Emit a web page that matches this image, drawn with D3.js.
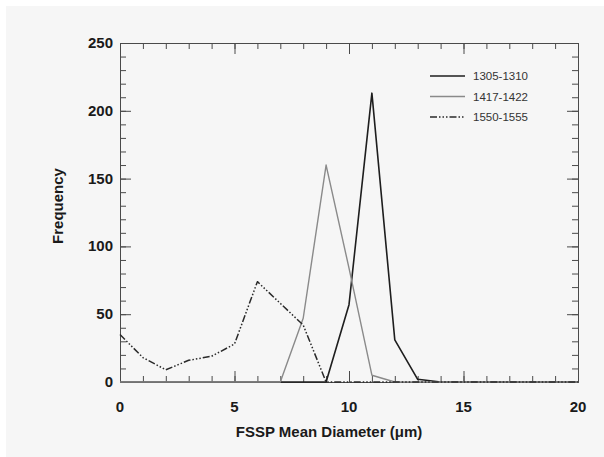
<!DOCTYPE html>
<html>
<head>
<meta charset="utf-8">
<script src="https://cdn.jsdelivr.net/npm/d3@7"></script>
<style>
  html, body { margin: 0; padding: 0; background: #ffffff; }
  svg { display: block; font-family: "Liberation Sans", Arial, sans-serif; }
</style>
</head>
<body>
<div id="chart"></div>
<script>
// ---------------------------------------------------------------------------
// Data (frequency per 1 um bin, diameters 0..20)

const diameters = d3.range(0, 21);
const s1305 = [0, 0, 0, 0, 0, 0, 0, 0, 0, 0, 57, 213, 31, 2, 0, 0, 0, 0, 0, 0, 0];
const s1417 = [0, 0, 0, 0, 0, 0, 0, 0, 47, 160, 84, 5, 0, 0, 0, 0, 0, 0, 0, 0, 0];
const s1550 = [35, 18, 9, 16, 19, 28, 74, 58, 42, 0, 0, 0, 0, 0, 0, 0, 0, 0, 0, 0, 0];
const seriesNames = ['1305-1310', '1417-1422', '1550-1555'];
const xTicks = [0, 5, 10, 15, 20];
const yTicks = [0, 50, 100, 150, 200, 250];

// ---------------------------------------------------------------------------
// Layout

const width = 604;
const height = 457;
const margin = {top: 43, right: 26, bottom: 75, left: 120};

const svg = d3.select('#chart')
  .append('svg')
  .attr('width', width)
  .attr('height', height);

svg.append('rect')
  .attr('width', width)
  .attr('height', height)
  .attr('fill', '#ffffff');

svg.append('rect')
  .attr('x', 6)
  .attr('y', 6)
  .attr('width', width - 6)
  .attr('height', height - 6)
  .attr('fill', '#f6f6f6');

const x = d3.scaleLinear()
  .domain([0, 20])
  .range([margin.left, width - margin.right]);

const y = d3.scaleLinear()
  .domain([0, 250])
  .range([height - margin.bottom, margin.top]);

const styles = [
  {stroke: '#1e1e1e', width: 1.6, dash: null},
  {stroke: '#8a8a8a', width: 1.4, dash: null},
  {stroke: '#2a2a2a', width: 1.5, dash: '7,2,1.5,2,1.5,2,1.5,2'}
];

// ---------------------------------------------------------------------------
// Axes (box with inward ticks on all four sides)

const axisColor = '#4a4a4a';
const minorX = d3.range(0, 21, 1);
const minorY = d3.range(0, 251, 10);

function addAxis(axis, transform) {
  const g = svg.append('g').attr('transform', transform).call(axis);
  g.selectAll('path, line').attr('stroke', axisColor);
  g.select('.domain').attr('stroke-width', 1);
  return g;
}

// bottom
addAxis(d3.axisBottom(x).tickValues(minorX).tickSize(-6).tickSizeOuter(0).tickFormat(''),
  `translate(0,${y(0)})`);
addAxis(d3.axisBottom(x).tickValues(xTicks).tickSize(-11).tickSizeOuter(0).tickFormat(''),
  `translate(0,${y(0)})`);
// top
addAxis(d3.axisTop(x).tickValues(minorX).tickSize(-6).tickSizeOuter(0).tickFormat(''),
  `translate(0,${y(250)})`);
addAxis(d3.axisTop(x).tickValues(xTicks).tickSize(-11).tickSizeOuter(0).tickFormat(''),
  `translate(0,${y(250)})`);
// left
addAxis(d3.axisLeft(y).tickValues(minorY).tickSize(-6).tickSizeOuter(0).tickFormat(''),
  `translate(${x(0)},0)`);
addAxis(d3.axisLeft(y).tickValues(yTicks).tickSize(-11).tickSizeOuter(0).tickFormat(''),
  `translate(${x(0)},0)`);
// right
addAxis(d3.axisRight(y).tickValues(minorY).tickSize(-6).tickSizeOuter(0).tickFormat(''),
  `translate(${x(20)},0)`);
addAxis(d3.axisRight(y).tickValues(yTicks).tickSize(-11).tickSizeOuter(0).tickFormat(''),
  `translate(${x(20)},0)`);

// tick labels
svg.append('g')
  .selectAll('text')
  .data(xTicks)
  .enter()
  .append('text')
  .attr('x', d => x(d))
  .attr('y', y(0) + 30)
  .attr('text-anchor', 'middle')
  .attr('font-size', 15)
  .attr('font-weight', 'bold')
  .attr('fill', '#1a1a1a')
  .text(d => d);

svg.append('g')
  .selectAll('text')
  .data(yTicks)
  .enter()
  .append('text')
  .attr('x', x(0) - 7)
  .attr('y', d => y(d) + 5)
  .attr('text-anchor', 'end')
  .attr('font-size', 15)
  .attr('font-weight', 'bold')
  .attr('fill', '#1a1a1a')
  .text(d => d);

// axis titles
svg.append('text')
  .attr('x', (x(0) + x(20)) / 2 - 20)
  .attr('y', 437)
  .attr('text-anchor', 'middle')
  .attr('font-size', 15)
  .attr('font-weight', 'bold')
  .attr('fill', '#1a1a1a')
  .text('FSSP Mean Diameter (\u03bcm)');

svg.append('text')
  .attr('transform', 'translate(63,206) rotate(-90)')
  .attr('text-anchor', 'middle')
  .attr('font-size', 15)
  .attr('font-weight', 'bold')
  .attr('fill', '#1a1a1a')
  .text('Frequency');

// ---------------------------------------------------------------------------
// Lines

const line = d3.line()
  .x((d, i) => x(diameters[i]))
  .y(d => y(d));

[s1305, s1417, s1550].forEach((values, i) => {
  svg.append('path')
    .datum(values)
    .attr('d', line)
    .attr('fill', 'none')
    .attr('stroke', styles[i].stroke)
    .attr('stroke-width', styles[i].width)
    .attr('stroke-dasharray', styles[i].dash)
    .attr('stroke-linejoin', 'round');
});

// ---------------------------------------------------------------------------
// Legend

const legend = svg.append('g')
  .selectAll('g')
  .data(seriesNames)
  .enter()
  .append('g')
  .attr('transform', (d, i) => `translate(430,${76 + i * 20.5})`);

legend.append('line')
  .attr('x1', 0)
  .attr('x2', 35)
  .attr('stroke', (d, i) => styles[i].stroke)
  .attr('stroke-width', (d, i) => styles[i].width)
  .attr('stroke-dasharray', (d, i) => styles[i].dash);

legend.append('text')
  .attr('x', 43)
  .attr('y', 4)
  .attr('font-size', 11.5)
  .attr('fill', '#333')
  .text(d => d);
</script>
</body>
</html>
